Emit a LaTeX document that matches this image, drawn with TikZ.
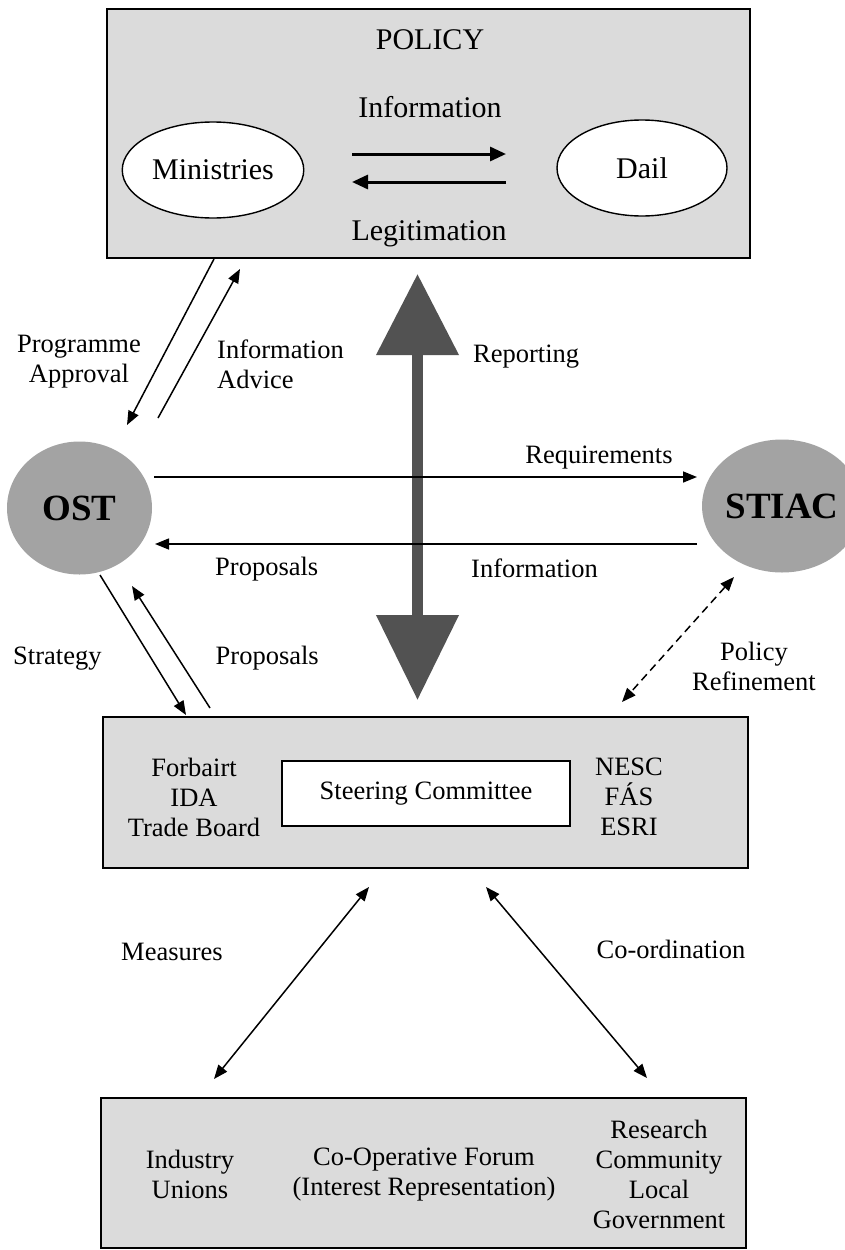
\documentclass[tikz,border=0pt]{standalone}
\usepackage{fontspec}
\setmainfont{Liberation Serif}
\usetikzlibrary{shapes.geometric,arrows.meta}

\begin{document}
\begin{tikzpicture}[x=1pt,y=-1pt,
    lbl/.style={font=\fontsize{26.5}{30}\selectfont, inner sep=0pt},
    head/.style={font=\fontsize{30}{34}\selectfont, inner sep=0pt},
    panel/.style={draw, line width=2.4pt, fill=black!14},
    body/.style={ellipse, fill=black!36, inner sep=0pt, minimum width=145pt, minimum height=133pt,
                 font=\fontsize{37}{40}\selectfont\bfseries},
    oval/.style={ellipse, draw, line width=1.4pt, fill=white, minimum width=170pt, minimum height=96pt,
                 font=\fontsize{30}{34}\selectfont},
    flow/.style={line width=1.5pt, -{Triangle[length=14pt,width=11pt]}},
    fat/.style={line width=3pt, -{Triangle[length=16pt,width=14pt]}},
    twoway/.style={line width=1.5pt, {Triangle[length=14pt,width=11pt]}-{Triangle[length=14pt,width=11pt]}},
  ]
  \useasboundingbox (0,0) rectangle (845,1250);
  \clip (0,0) rectangle (845,1250);
  \fill[white] (0,0) rectangle (845,1250);

  % policy level
  \node[panel, minimum width=643pt, minimum height=249pt] (policy) at (428.5,133.5) {};
  \node[head, anchor=base] (policyttl) at (430,49) {POLICY};
  \node[oval] (ministries) at (213,170) {Ministries};
  \node[oval] (dail) at (642,168) {Dail};
  \node[head, anchor=base] (infotop) at (430,117) {Information};
  \node[head, anchor=base] (legit) at (429,240) {Legitimation};
  \coordinate (ia) at (352,154);  \coordinate (ib) at (506,154);
  \coordinate (la) at (506,182);  \coordinate (lb) at (352,182);
  \draw[fat] (ia) -- (ib);
  \draw[fat] (la) -- (lb);

  % advisory bodies
  \node[body] (ost) at (79.5,508) {OST};
  \node[body] (stiac) at (782,506) {STIAC};

  % agencies
  \node[panel, minimum width=645pt, minimum height=151pt] (agencies) at (425.5,792.5) {};
  \node[lbl, draw, line width=1.6pt, fill=white, minimum width=288pt, minimum height=65pt] (steer) at (426,793.5) {Steering Committee};
  \node[lbl, align=center] (devbodies) at (194,797) {Forbairt\\IDA\\Trade Board};
  \node[lbl, align=center] (research) at (629,797) {NESC\\FÁS\\ESRI};

  % forum
  \node[panel, minimum width=645pt, minimum height=150pt] (forum) at (423.5,1173) {};
  \node[lbl, align=center] (industry) at (190,1174) {Industry\\Unions};
  \node[lbl, align=center] (coop) at (424,1175) {Co-Operative Forum\\(Interest Representation)};
  \node[lbl, align=center] (community) at (659,1174) {Research\\Community\\Local\\Government};

  % link ends
  \coordinate (appr-a) at (214,259);  \coordinate (appr-b) at (127,425);
  \coordinate (adv-a) at (158,418);   \coordinate (adv-b) at (240,269);
  \coordinate (req-a) at (154,477);   \coordinate (req-b) at (697,477);
  \coordinate (inf-a) at (697,544);   \coordinate (inf-b) at (155,544);
  \coordinate (str-a) at (100,575);   \coordinate (str-b) at (186,715);
  \coordinate (pro-a) at (210,708);   \coordinate (pro-b) at (132,586);
  \coordinate (ref-a) at (734,577);   \coordinate (ref-b) at (622,702);
  \coordinate (mea-a) at (369,887);   \coordinate (mea-b) at (214,1079);
  \coordinate (cor-a) at (486,887);   \coordinate (cor-b) at (647,1078);
  \coordinate (rep-a) at (417.5,700); \coordinate (rep-b) at (417.5,274);

  \draw[line width=11pt, black!68,
        {Triangle[length=85pt,width=80pt]}-{Triangle[length=81pt,width=80pt]}] (rep-a) -- (rep-b);

  \path[flow]
    (appr-a) edge (appr-b)
    (adv-a) edge (adv-b)
    (req-a) edge (req-b)
    (inf-a) edge (inf-b)
    (str-a) edge (str-b)
    (pro-a) edge (pro-b);
  \path[twoway]
    (ref-a) edge[dash pattern=on 8pt off 5pt] (ref-b)
    (mea-a) edge (mea-b)
    (cor-a) edge (cor-b);

  % labels
  \node[lbl, align=center] (approval) at (79,362) {Programme\\Approval};
  \node[lbl, align=left, anchor=west] (advice) at (217,364) {Information\\Advice};
  \node[lbl, anchor=base west] (reporting) at (473,362.5) {Reporting};
  \node[lbl, anchor=base] (requirements) at (599,463.5) {Requirements};
  \node[lbl, anchor=base west] (proposalsmid) at (215,575.5) {Proposals};
  \node[lbl, anchor=base west] (infomid) at (471,577) {Information};
  \node[lbl, anchor=base west] (strategy) at (13,664) {Strategy};
  \node[lbl, anchor=base west] (proposalslow) at (215.5,664) {Proposals};
  \node[lbl, align=center] (refinement) at (754,666) {Policy\\Refinement};
  \node[lbl, anchor=base] (measures) at (172,960) {Measures};
  \node[lbl, anchor=base] (coordination) at (671,958) {Co-ordination};
\end{tikzpicture}
\end{document}
